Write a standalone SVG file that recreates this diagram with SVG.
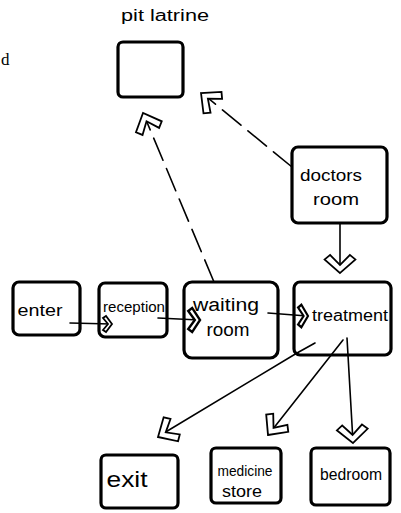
<svg xmlns="http://www.w3.org/2000/svg" width="401" height="513" viewBox="0 0 401 513">
<style>
.box{fill:#fff;stroke:#000;stroke-width:3.2}
.ln{fill:none;stroke:#000;stroke-width:1.6;stroke-linecap:round}
.dash{stroke-dasharray:24 9}
.hd{fill:#fff;stroke:#000;stroke-width:1.8;stroke-linejoin:miter}
text{font-family:"Liberation Sans",Arial,sans-serif;fill:#000}
</style>
<defs>
<path id="chev" d="M0,0 L-15,-14 L-20,-9 L-9,0 L-20,9 L-15,14 Z"/>
<path id="schev" d="M0,0 L-6,-8 L-9,-6 L-4,0 L-9,6 L-6,8 Z"/>
</defs>
<rect width="401" height="513" fill="#fff"/>
<text x="1" y="65" style="font-family:'Liberation Serif','DejaVu Serif',serif" font-size="17">d</text>
<text x="165" y="21" font-size="16" text-anchor="middle" textLength="88" lengthAdjust="spacingAndGlyphs">pit latrine</text>

<g id="pit-latrine"><rect class="box" x="118" y="42" width="65" height="55" rx="5"/></g>
<g id="doctors-room"><rect class="box" x="292" y="147" width="95" height="76" rx="6"/>
<text x="331" y="181" font-size="17" text-anchor="middle" textLength="62" lengthAdjust="spacingAndGlyphs">doctors</text>
<text x="336" y="205" font-size="17" text-anchor="middle" textLength="46" lengthAdjust="spacingAndGlyphs">room</text></g>
<g id="enter"><rect class="box" x="13" y="282" width="67" height="53" rx="6"/>
<text x="40" y="316" font-size="17" text-anchor="middle" textLength="45" lengthAdjust="spacingAndGlyphs">enter</text></g>
<g id="reception"><rect class="box" x="99" y="283" width="68" height="54" rx="6"/>
<text x="134" y="312" font-size="15" text-anchor="middle" textLength="62" lengthAdjust="spacingAndGlyphs">reception</text></g>
<g id="waiting-room"><rect class="box" x="184" y="282" width="94" height="76" rx="8"/>
<text x="226" y="311" font-size="18" text-anchor="middle" textLength="66" lengthAdjust="spacingAndGlyphs">waiting</text>
<text x="228" y="336" font-size="18" text-anchor="middle" textLength="43" lengthAdjust="spacingAndGlyphs">room</text></g>
<g id="treatment"><rect class="box" x="294" y="282" width="97" height="73" rx="6"/>
<text x="350" y="321" font-size="16" text-anchor="middle" textLength="76" lengthAdjust="spacingAndGlyphs">treatment</text></g>
<g id="exit"><rect class="box" x="101" y="455" width="77" height="53" rx="5"/>
<text x="127" y="487" font-size="22" text-anchor="middle" textLength="41" lengthAdjust="spacingAndGlyphs">exit</text></g>
<g id="medicine-store"><rect class="box" x="211" y="448" width="70" height="55" rx="5"/>
<text x="245" y="476" font-size="14" text-anchor="middle" textLength="55" lengthAdjust="spacingAndGlyphs">medicine</text>
<text x="242" y="497" font-size="16" text-anchor="middle" textLength="40" lengthAdjust="spacingAndGlyphs">store</text></g>
<g id="bedroom"><rect class="box" x="311" y="448" width="79" height="57" rx="5"/>
<text x="351" y="480" font-size="16" text-anchor="middle" textLength="62" lengthAdjust="spacingAndGlyphs">bedroom</text></g>

<g id="connectors">
<line class="ln dash" x1="214" y1="282" x2="144" y2="115"/>
<line class="ln dash" x1="292" y1="167" x2="203" y2="94"/>
<line class="ln" x1="340" y1="223" x2="340" y2="272"/>
<line class="ln" x1="70" y1="323" x2="111" y2="324"/>
<line class="ln" x1="158" y1="318" x2="199" y2="320"/>
<line class="ln" x1="268" y1="313" x2="307" y2="316"/>
<polyline class="ln" points="315,343 297,353 159,436"/>
<line class="ln" x1="343" y1="340" x2="269" y2="434"/>
<line class="ln" x1="347" y1="338" x2="353" y2="442"/>
<use href="#chev" class="hd" transform="translate(143,113) rotate(-113)"/>
<use href="#chev" class="hd" transform="translate(201,93) rotate(-140)"/>
<use href="#chev" class="hd" transform="translate(340,273) rotate(90) scale(0.9,1.1)"/>
<use href="#schev" class="hd" transform="translate(112,324)"/>
<use href="#schev" class="hd" transform="translate(200,320) scale(1.3,1.5)"/>
<use href="#schev" class="hd" transform="translate(308,316) scale(1.1,1.4)"/>
<use href="#chev" class="hd" transform="translate(158,437) rotate(149)"/>
<use href="#chev" class="hd" transform="translate(268,435) rotate(128)"/>
<use href="#chev" class="hd" transform="translate(353,443) rotate(87) scale(0.9,1.1)"/>
</g>
</svg>
